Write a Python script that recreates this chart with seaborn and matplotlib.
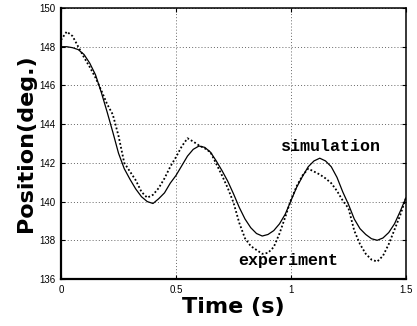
import numpy as np
import pandas as pd
import matplotlib
matplotlib.use("Agg")
import matplotlib.pyplot as plt
import seaborn as sns

# zaman ekseni (s)
t = [0.0, 0.025, 0.05, 0.075, 0.1, 0.125, 0.15, 0.175, 0.2, 0.225,
     0.25, 0.275, 0.3, 0.325, 0.35, 0.375, 0.4, 0.425, 0.45, 0.475,
     0.5, 0.525, 0.55, 0.575, 0.6, 0.625, 0.65, 0.675, 0.7, 0.725,
     0.75, 0.775, 0.8, 0.825, 0.85, 0.875, 0.9, 0.925, 0.95, 0.975,
     1.0, 1.025, 1.05, 1.075, 1.1, 1.125, 1.15, 1.175, 1.2, 1.225,
     1.25, 1.275, 1.3, 1.325, 1.35, 1.375, 1.4, 1.425, 1.45, 1.475, 1.5]

# simulasyon (deg.)
simulation = [148.0, 148.0, 147.95, 147.85, 147.6, 147.15, 146.55, 145.65, 144.65, 143.6,
              142.5, 141.7, 141.15, 140.65, 140.25, 140.0, 139.9, 140.15, 140.45, 140.95,
              141.35, 141.85, 142.35, 142.7, 142.87, 142.8, 142.55, 142.1, 141.6, 141.05,
              140.4, 139.7, 139.1, 138.65, 138.35, 138.22, 138.3, 138.5, 138.85, 139.35,
              140.05, 140.75, 141.3, 141.8, 142.1, 142.24, 142.1, 141.8, 141.25, 140.5,
              139.85, 139.1, 138.6, 138.3, 138.08, 138.0, 138.12, 138.4, 138.85, 139.5, 140.2]

# deney (deg.)
experiment = [148.35, 148.78, 148.55, 148.0, 147.45, 146.95, 146.4, 145.75, 145.05, 144.5,
              143.4, 142.0, 141.55, 141.1, 140.5, 140.2, 140.35, 140.7, 141.2, 141.8,
              142.3, 142.85, 143.27, 143.1, 142.9, 142.75, 142.55, 141.95, 141.35, 140.7,
              139.95, 138.9, 138.1, 137.7, 137.5, 137.3, 137.35, 137.65, 138.35, 139.2,
              140.1, 140.8, 141.35, 141.7, 141.55, 141.4, 141.2, 140.95, 140.55, 140.05,
              139.65, 138.5, 137.8, 137.3, 137.0, 136.9, 137.2, 137.8, 138.55, 139.3, 140.2]

xticks = [0, 0.5, 1, 1.5]
xticklabels = ["0", "0.5", "1", "1.5"]
yticks = [136, 138, 140, 142, 144, 146, 148, 150]

df = pd.DataFrame({"t": t, "sim": simulation, "exp": experiment})

sns.set_style("ticks")
plt.rcParams["font.family"] = ["DejaVu Sans"]
plt.rcParams["text.color"] = "black"
plt.rcParams["axes.labelcolor"] = "black"

fig = plt.figure(figsize=(4.17, 3.26), dpi=100)
ax = fig.add_axes([61 / 417, 1 - 279 / 326, 345 / 417, 271 / 326])

sns.lineplot(data=df, x="t", y="sim", ax=ax, color="black", linewidth=0.9)
sns.lineplot(data=df, x="t", y="exp", ax=ax, color="black", linewidth=1.3,
             linestyle=(0, (1.0, 1.2)))

ax.set_xlim(0, 1.5)
ax.set_ylim(136, 150)
ax.set_xticks(xticks)
ax.set_xticklabels(xticklabels)
ax.set_yticks(yticks)
ax.grid(True, linestyle=(0, (1, 2.2)), color="0.4", linewidth=0.7)
ax.tick_params(direction="in", length=3, width=0.8, top=True, right=True,
               labelsize=7, pad=4, colors="black")
for lab in ax.get_xticklabels() + ax.get_yticklabels():
    lab.set_family("Liberation Sans")
for s in ax.spines.values():
    s.set_linewidth(1.1)
    s.set_color("black")
ax.spines["left"].set_linewidth(1.6)
ax.spines["bottom"].set_linewidth(1.6)

ax.set_xlabel("Time (s)", fontsize=16, fontweight="bold", labelpad=2)
ax.set_ylabel("Position(deg.)", fontsize=16, fontweight="bold", labelpad=2)

ax.text(1.175, 142.84, "simulation", family="Liberation Mono", fontsize=12,
        fontweight="bold", ha="center", va="center")
ax.text(0.99, 136.98, "experiment", family="Liberation Mono", fontsize=12,
        fontweight="bold", ha="center", va="center")

fig.savefig("out.png", dpi=100)
